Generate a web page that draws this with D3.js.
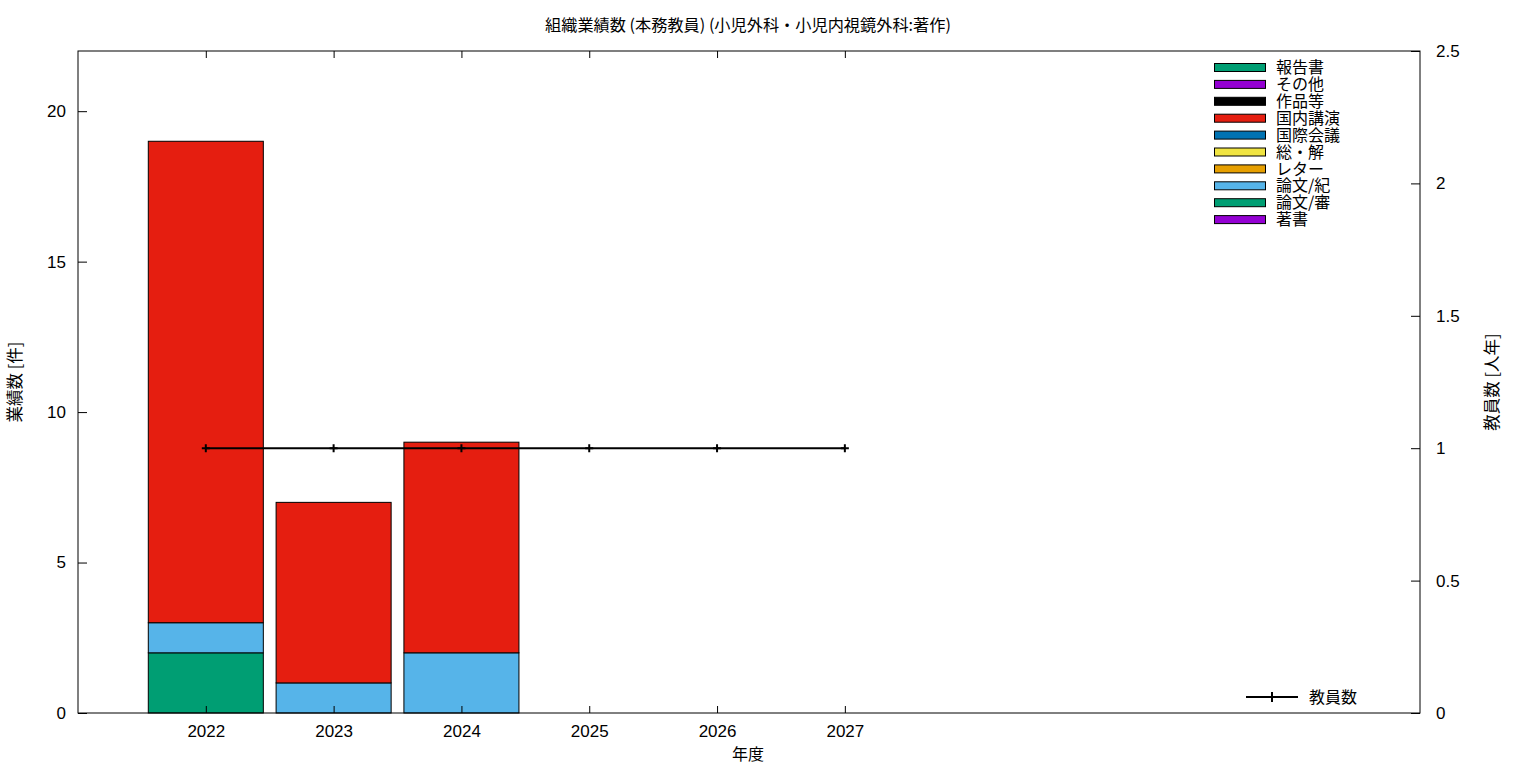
<!DOCTYPE html>
<html><head><meta charset="utf-8">
<script src="https://cdn.jsdelivr.net/npm/d3@7"></script>
<style>
body{margin:0;background:#fff;}
svg text{font-family:"Noto Sans CJK JP","Noto Sans",sans-serif;fill:#000;}
</style></head>
<body><svg id="c" width="1536" height="768"></svg>
<script>
const years = [2022, 2023, 2024, 2025, 2026, 2027];
// stacked series, bottom to top
const seriesNames = ["著書","論文/審","論文/紀","レター","総・解","国際会議","国内講演","作品等","その他","報告書"];
const seriesColors = ["#9400d3","#009e73","#56b4e9","#e69f00","#f0e442","#0072b2","#e51e10","#000000","#9400d3","#009e73"];
const s_chosho   = [0,0,0,0,0,0];
const s_ronbunShin = [2,0,0,0,0,0];
const s_ronbunKi = [1,1,2,0,0,0];
const s_letter   = [0,0,0,0,0,0];
const s_souKai   = [0,0,0,0,0,0];
const s_kokusai  = [0,0,0,0,0,0];
const s_kokunai  = [16,6,7,0,0,0];
const s_sakuhin  = [0,0,0,0,0,0];
const s_sonota   = [0,0,0,0,0,0];
const s_houkoku  = [0,0,0,0,0,0];
const staff = [1,1,1,1,1,1];
const leftTicks = [0,5,10,15,20];
const rightTicks = [0,0.5,1,1.5,2,2.5];

const seriesValues = [s_chosho,s_ronbunShin,s_ronbunKi,s_letter,s_souKai,s_kokusai,s_kokunai,s_sakuhin,s_sonota,s_houkoku];

const svg = d3.select("#c");
const L=78, R=1420, T=51, B=713;
const x = d3.scaleLinear().domain([2021, 2031.5]).range([L, R]);
const y = d3.scaleLinear().domain([0, 22]).range([B, T]);
const y2 = d3.scaleLinear().domain([0, 2.5]).range([B, T]);

const table = years.map((yr,i)=>{const o={year:yr}; seriesNames.forEach((n,k)=>o[n]=seriesValues[k][i]); return o;});
const stack = d3.stack().keys(seriesNames)(table);
const bw = x(2021.9)-x(2021);

stack.forEach((layer,k)=>{
  svg.append("g").selectAll("rect").data(layer.filter(d=>d[1]-d[0]>0)).join("rect")
    .attr("x", d=>x(d.data.year)-bw/2).attr("width", bw)
    .attr("y", d=>y(d[1])).attr("height", d=>y(d[0])-y(d[1]))
    .attr("fill", seriesColors[k]).attr("stroke","#000").attr("stroke-width",1);
});

// axes
const fs = 17;
const axL = svg.append("g").attr("transform",`translate(${L},0)`).call(d3.axisLeft(y).tickValues(leftTicks).tickSizeInner(-9).tickSizeOuter(0).tickPadding(12));
const axR = svg.append("g").attr("transform",`translate(${R},0)`).call(d3.axisRight(y2).tickValues(rightTicks).tickFormat(d=>d).tickSizeInner(-9).tickSizeOuter(0).tickPadding(16));
const axB = svg.append("g").attr("transform",`translate(0,${B})`).call(d3.axisBottom(x).tickValues(years).tickFormat(d=>d).tickSizeInner(-7).tickSizeOuter(0).tickPadding(10));
const axT = svg.append("g").attr("transform",`translate(0,${T})`).call(d3.axisTop(x).tickValues(years).tickFormat("").tickSizeInner(-7).tickSizeOuter(0));
[axL,axR,axB,axT].forEach(a=>{a.select(".domain").remove(); a.selectAll("text").attr("font-size",fs).style("font-family","'Liberation Sans','Noto Sans',sans-serif"); a.selectAll("line").attr("stroke","#000");});
axB.selectAll("text").attr("dy","0.85em");

svg.append("rect").attr("x",L).attr("y",T).attr("width",R-L).attr("height",B-T).attr("fill","none").attr("stroke","#000").attr("stroke-width",1);

// staff line
const line = d3.line().x((d,i)=>x(years[i])).y(d=>y2(d));
svg.append("path").datum(staff).attr("d",line).attr("fill","none").attr("stroke","#000").attr("stroke-width",2);
svg.append("g").selectAll("path").data(staff).join("path")
  .attr("d",(d,i)=>{const cx=x(years[i]), cy=y2(d); return `M${cx-4},${cy}H${cx+4}M${cx},${cy-4}V${cy+4}`;})
  .attr("stroke","#000").attr("stroke-width",2);

// legend
const legNames = seriesNames.slice().reverse();
const legColors = seriesColors.slice().reverse();
legNames.forEach((n,i)=>{
  const cy = 67.5 + i*16.9;
  svg.append("rect").attr("x",1214.5).attr("y",cy-4).attr("width",51).attr("height",8)
    .attr("fill",legColors[i]).attr("stroke","#000").attr("stroke-width",1);
  svg.append("text").attr("x",1276).attr("y",cy).attr("dy","0.35em").attr("font-size",16).text(n);
});
svg.append("path").attr("d","M1246,697H1298M1272,692V702").attr("stroke","#000").attr("stroke-width",2);
svg.append("text").attr("x",1309).attr("y",697).attr("dy","0.35em").attr("font-size",16).text("教員数");

// titles
svg.append("text").attr("x",748).attr("y",25).attr("dy","0.35em").attr("text-anchor","middle").attr("font-size",16.2).text("組織業績数 (本務教員) (小児外科・小児内視鏡外科:著作)");
svg.append("text").attr("x",748).attr("y",754).attr("dy","0.35em").attr("text-anchor","middle").attr("font-size",16).text("年度");
svg.append("text").attr("transform","translate(15,382) rotate(-90)").attr("dy","0.35em").attr("text-anchor","middle").attr("font-size",16.5).text("業績数 [件]");
svg.append("text").attr("transform","translate(1492,382) rotate(-90)").attr("dy","0.35em").attr("text-anchor","middle").attr("font-size",16.5).text("教員数 [人年]");
</script></body></html>
